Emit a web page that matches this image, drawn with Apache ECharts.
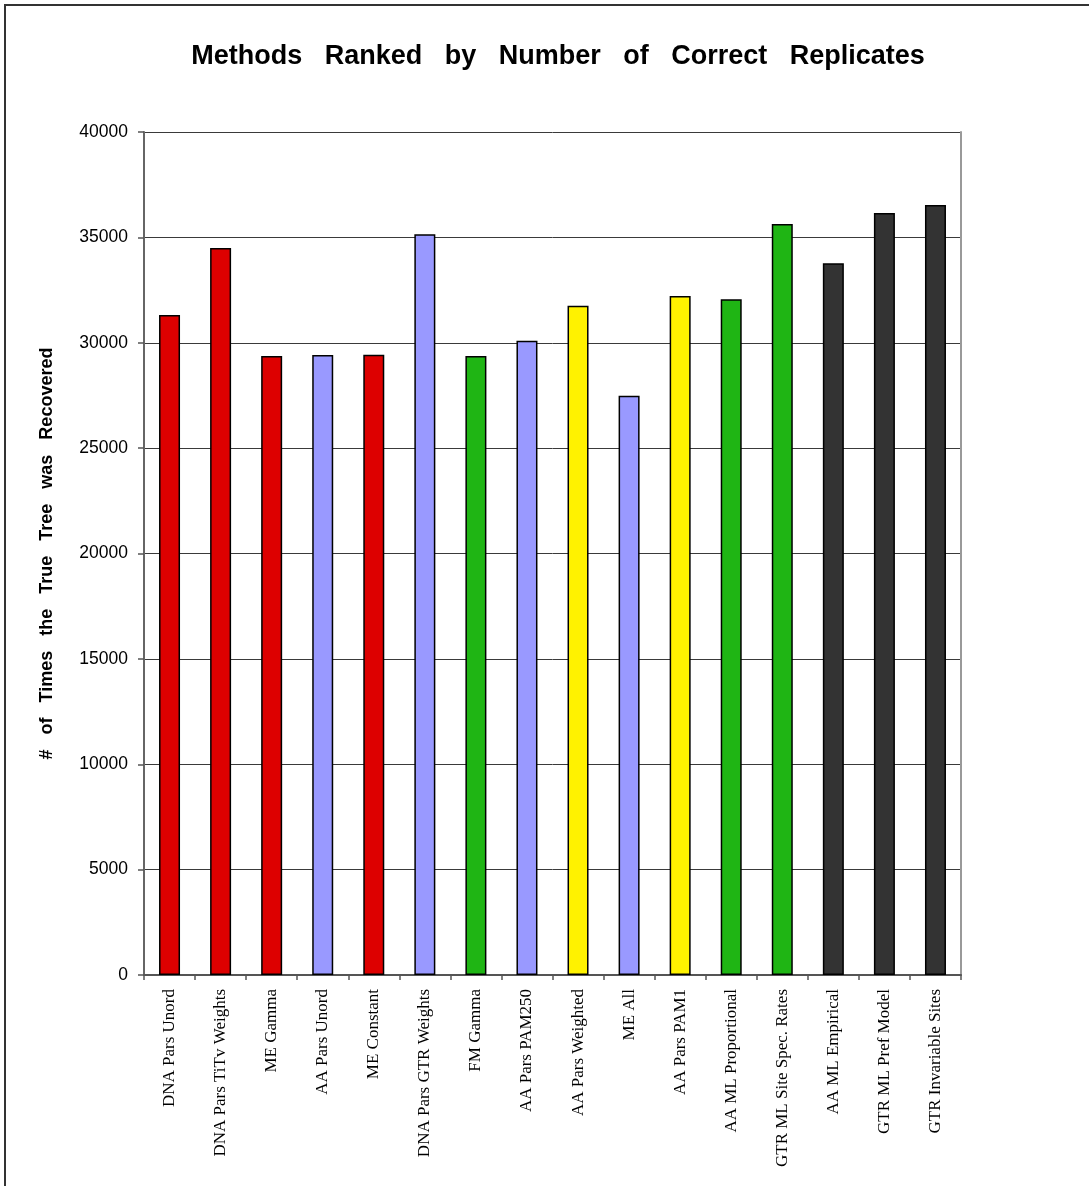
<!DOCTYPE html>
<html>
<head>
<meta charset="utf-8">
<script src="https://cdn.jsdelivr.net/npm/echarts@6/dist/echarts.min.js"></script>
<style>
  html, body { margin: 0; padding: 0; background: #fff; }
  #chart { width: 1089px; height: 1186px; }
</style>
</head>
<body>
<div id="chart"></div>
<script>
// Methods, in ranked order, with the number of replicates recovering the true tree
const methods = [
  'DNA Pars Unord', 'DNA Pars TiTv Weights', 'ME Gamma', 'AA Pars Unord',
  'ME Constant', 'DNA Pars GTR Weights', 'FM Gamma', 'AA Pars PAM250',
  'AA Pars Weighted', 'ME All', 'AA Pars PAM1', 'AA ML Proportional',
  'GTR ML Site Spec. Rates', 'AA ML Empirical', 'GTR ML Pref Model', 'GTR Invariable Sites'
];
const correctReplicates = [
  31320, 34500, 29370, 29420,
  29430, 35150, 29370, 30100,
  31750, 27490, 32220, 32060,
  35640, 33770, 36160, 36540
];
// Method family of each bar (sets its fill)
const families = [
  'red', 'red', 'red', 'blue',
  'red', 'blue', 'green', 'blue',
  'yellow', 'blue', 'yellow', 'green',
  'green', 'dark', 'dark', 'dark'
];
const yTicks = { min: 0, max: 40000, interval: 5000 };

const familyColors = {
  red: '#DD0000',
  blue: '#9999FF',
  green: '#1FB514',
  yellow: '#FFF200',
  dark: '#333333'
};

const chart = echarts.init(document.getElementById('chart'), null, { renderer: 'canvas' });

chart.setOption({
  animation: false,
  backgroundColor: '#ffffff',
  title: {
    text: 'Methods   Ranked   by   Number   of   Correct   Replicates',
    left: 553,
    top: 38,
    textAlign: 'center',
    textStyle: {
      fontFamily: 'Liberation Sans, Arial, sans-serif',
      fontWeight: 'bold',
      fontSize: 27,
      color: '#000'
    }
  },
  graphic: [{
    type: 'rect',
    shape: { x: 5, y: 5, width: 1200, height: 1300 },
    style: { fill: 'none', stroke: '#333', lineWidth: 2 },
    silent: true,
    z: 100
  }],
  grid: { left: 144, right: 128, top: 132, bottom: 211 },
  xAxis: {
    type: 'category',
    data: methods,
    axisLine: { lineStyle: { color: '#555', width: 2 } },
    axisTick: { show: true, alignWithLabel: false, length: 5, lineStyle: { color: '#555', width: 1.5 } },
    axisLabel: {
      interval: 0,
      rotate: 90,
      margin: 14,
      fontFamily: 'Liberation Serif, Times New Roman, serif',
      fontSize: 17,
      color: '#000'
    },
    splitLine: { show: false }
  },
  yAxis: [{
    type: 'value',
    min: yTicks.min,
    max: yTicks.max,
    interval: yTicks.interval,
    name: '#   of   Times   the   True   Tree   was   Recovered',
    nameLocation: 'middle',
    nameRotate: 90,
    nameGap: 88,
    nameTextStyle: {
      fontFamily: 'Liberation Sans, Arial, sans-serif',
      fontWeight: 'bold',
      fontSize: 18,
      color: '#000'
    },
    axisLine: { show: true, lineStyle: { color: '#666', width: 2 } },
    axisTick: { show: true, length: 6, lineStyle: { color: '#555', width: 1.5 } },
    axisLabel: {
      margin: 16,
      fontFamily: 'Liberation Sans, Arial, sans-serif',
      fontSize: 17.5,
      color: '#000',
      formatter: (v) => String(v)
    },
    splitLine: { show: true, lineStyle: { color: '#3a3a3a', width: 1 } }
  }, {
    type: 'value',
    position: 'right',
    min: yTicks.min,
    max: yTicks.max,
    interval: yTicks.interval,
    axisLine: { show: true, lineStyle: { color: '#999', width: 2 } },
    axisTick: { show: false },
    axisLabel: { show: false },
    splitLine: { show: false }
  }],
  series: [{
    type: 'bar',
    yAxisIndex: 0,
    barWidth: 21,
    data: correctReplicates.map((v, i) => ({
      value: v,
      itemStyle: {
        color: familyColors[families[i]],
        borderColor: '#000',
        borderWidth: 1.5
      }
    }))
  }]
});
</script>
</body>
</html>
